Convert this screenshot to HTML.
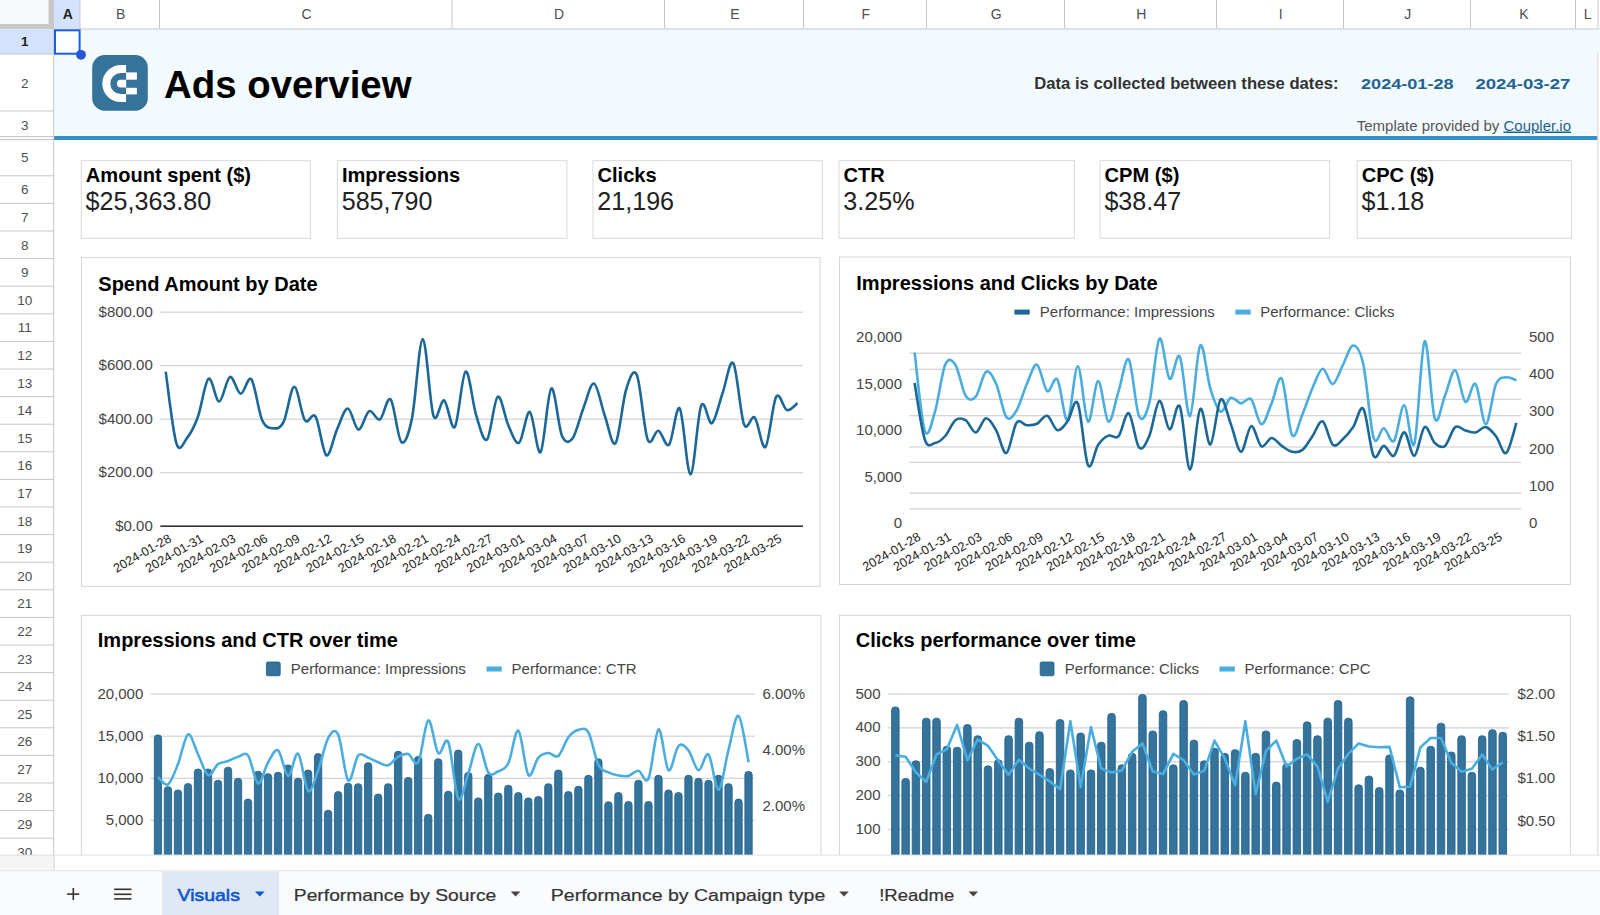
<!DOCTYPE html>
<html><head><meta charset="utf-8"><title>Ads overview</title>
<style>
html,body{margin:0;padding:0;background:#fff;width:1600px;height:915px;overflow:hidden;}
svg{display:block;font-family:"Liberation Sans", sans-serif;}
</style></head><body>
<svg width="1600" height="915" viewBox="0 0 1600 915">
<rect x="0" y="0" width="1600" height="915" fill="#ffffff"/>
<rect x="54" y="29" width="1543.5" height="106" fill="#f2fafe"/>
<rect x="54" y="136" width="1543.5" height="4" fill="#3392c9"/>
<rect x="0" y="0" width="1600" height="29" fill="#ffffff"/>
<rect x="0" y="0" width="48.5" height="24" fill="#f8f9fa"/>
<rect x="48.5" y="0" width="5.5" height="29.3" fill="#c7c7c7"/>
<rect x="0" y="24" width="54" height="5.3" fill="#c7c7c7"/>
<rect x="54" y="0" width="26" height="28.5" fill="#d3e3fd"/>
<rect x="54" y="28.5" width="1546" height="1" fill="#c7c7c7"/>
<rect x="79.50" y="0" width="1" height="28.5" fill="#c7c7c7"/>
<text x="67.80" y="19.40" font-size="14" fill="#1f1f1f" font-weight="bold" text-anchor="middle" >A</text>
<rect x="159.00" y="0" width="1" height="28.5" fill="#c7c7c7"/>
<text x="120.55" y="19.40" font-size="14" fill="#4d4f52" font-weight="normal" text-anchor="middle" >B</text>
<rect x="451.50" y="0" width="1" height="28.5" fill="#c7c7c7"/>
<text x="306.55" y="19.40" font-size="14" fill="#4d4f52" font-weight="normal" text-anchor="middle" >C</text>
<rect x="664.00" y="0" width="1" height="28.5" fill="#c7c7c7"/>
<text x="559.05" y="19.40" font-size="14" fill="#4d4f52" font-weight="normal" text-anchor="middle" >D</text>
<rect x="803.00" y="0" width="1" height="28.5" fill="#c7c7c7"/>
<text x="734.80" y="19.40" font-size="14" fill="#4d4f52" font-weight="normal" text-anchor="middle" >E</text>
<rect x="926.00" y="0" width="1" height="28.5" fill="#c7c7c7"/>
<text x="865.80" y="19.40" font-size="14" fill="#4d4f52" font-weight="normal" text-anchor="middle" >F</text>
<rect x="1064.00" y="0" width="1" height="28.5" fill="#c7c7c7"/>
<text x="996.30" y="19.40" font-size="14" fill="#4d4f52" font-weight="normal" text-anchor="middle" >G</text>
<rect x="1216.00" y="0" width="1" height="28.5" fill="#c7c7c7"/>
<text x="1141.30" y="19.40" font-size="14" fill="#4d4f52" font-weight="normal" text-anchor="middle" >H</text>
<rect x="1343.00" y="0" width="1" height="28.5" fill="#c7c7c7"/>
<text x="1280.80" y="19.40" font-size="14" fill="#4d4f52" font-weight="normal" text-anchor="middle" >I</text>
<rect x="1470.00" y="0" width="1" height="28.5" fill="#c7c7c7"/>
<text x="1407.80" y="19.40" font-size="14" fill="#4d4f52" font-weight="normal" text-anchor="middle" >J</text>
<rect x="1575.00" y="0" width="1" height="28.5" fill="#c7c7c7"/>
<text x="1523.80" y="19.40" font-size="14" fill="#4d4f52" font-weight="normal" text-anchor="middle" >K</text>
<rect x="1597.50" y="0" width="1" height="28.5" fill="#c7c7c7"/>
<text x="1587.55" y="19.40" font-size="14" fill="#4d4f52" font-weight="normal" text-anchor="middle" >L</text>
<rect x="1597.5" y="53" width="1" height="802" fill="#c7c7c7"/>
<rect x="1598.5" y="53" width="1.5" height="802" fill="#ffffff"/>
<rect x="1597.5" y="29.5" width="2.5" height="23.5" fill="#f2fafe"/>
<rect x="0" y="29.3" width="53.5" height="826" fill="#ffffff"/>
<rect x="0" y="29.3" width="53.5" height="25" fill="#d3e3fd"/>
<rect x="53.2" y="29" width="1" height="841" fill="#c7c7c7"/>
<rect x="0" y="53.50" width="53.5" height="1" fill="#c7c7c7"/>
<text x="24.80" y="46.40" font-size="13.5" fill="#1f1f1f" font-weight="bold" text-anchor="middle" >1</text>
<rect x="0" y="110.50" width="53.5" height="1" fill="#c7c7c7"/>
<text x="24.80" y="88.40" font-size="13.5" fill="#4d4f52" font-weight="normal" text-anchor="middle" >2</text>
<rect x="0" y="136.00" width="53.5" height="1" fill="#c7c7c7"/>
<text x="24.80" y="130.05" font-size="13.5" fill="#4d4f52" font-weight="normal" text-anchor="middle" >3</text>
<rect x="0" y="175.30" width="53.5" height="1" fill="#c7c7c7"/>
<text x="24.80" y="162.10" font-size="13.5" fill="#4d4f52" font-weight="normal" text-anchor="middle" >5</text>
<rect x="0" y="202.90" width="53.5" height="1" fill="#c7c7c7"/>
<text x="24.80" y="194.30" font-size="13.5" fill="#4d4f52" font-weight="normal" text-anchor="middle" >6</text>
<rect x="0" y="230.50" width="53.5" height="1" fill="#c7c7c7"/>
<text x="24.80" y="221.90" font-size="13.5" fill="#4d4f52" font-weight="normal" text-anchor="middle" >7</text>
<rect x="0" y="258.10" width="53.5" height="1" fill="#c7c7c7"/>
<text x="24.80" y="249.50" font-size="13.5" fill="#4d4f52" font-weight="normal" text-anchor="middle" >8</text>
<rect x="0" y="285.70" width="53.5" height="1" fill="#c7c7c7"/>
<text x="24.80" y="277.10" font-size="13.5" fill="#4d4f52" font-weight="normal" text-anchor="middle" >9</text>
<rect x="0" y="313.30" width="53.5" height="1" fill="#c7c7c7"/>
<text x="24.80" y="304.70" font-size="13.5" fill="#4d4f52" font-weight="normal" text-anchor="middle" >10</text>
<rect x="0" y="340.90" width="53.5" height="1" fill="#c7c7c7"/>
<text x="24.80" y="332.30" font-size="13.5" fill="#4d4f52" font-weight="normal" text-anchor="middle" >11</text>
<rect x="0" y="368.50" width="53.5" height="1" fill="#c7c7c7"/>
<text x="24.80" y="359.90" font-size="13.5" fill="#4d4f52" font-weight="normal" text-anchor="middle" >12</text>
<rect x="0" y="396.10" width="53.5" height="1" fill="#c7c7c7"/>
<text x="24.80" y="387.50" font-size="13.5" fill="#4d4f52" font-weight="normal" text-anchor="middle" >13</text>
<rect x="0" y="423.70" width="53.5" height="1" fill="#c7c7c7"/>
<text x="24.80" y="415.10" font-size="13.5" fill="#4d4f52" font-weight="normal" text-anchor="middle" >14</text>
<rect x="0" y="451.30" width="53.5" height="1" fill="#c7c7c7"/>
<text x="24.80" y="442.70" font-size="13.5" fill="#4d4f52" font-weight="normal" text-anchor="middle" >15</text>
<rect x="0" y="478.90" width="53.5" height="1" fill="#c7c7c7"/>
<text x="24.80" y="470.30" font-size="13.5" fill="#4d4f52" font-weight="normal" text-anchor="middle" >16</text>
<rect x="0" y="506.50" width="53.5" height="1" fill="#c7c7c7"/>
<text x="24.80" y="497.90" font-size="13.5" fill="#4d4f52" font-weight="normal" text-anchor="middle" >17</text>
<rect x="0" y="534.10" width="53.5" height="1" fill="#c7c7c7"/>
<text x="24.80" y="525.50" font-size="13.5" fill="#4d4f52" font-weight="normal" text-anchor="middle" >18</text>
<rect x="0" y="561.70" width="53.5" height="1" fill="#c7c7c7"/>
<text x="24.80" y="553.10" font-size="13.5" fill="#4d4f52" font-weight="normal" text-anchor="middle" >19</text>
<rect x="0" y="589.30" width="53.5" height="1" fill="#c7c7c7"/>
<text x="24.80" y="580.70" font-size="13.5" fill="#4d4f52" font-weight="normal" text-anchor="middle" >20</text>
<rect x="0" y="616.90" width="53.5" height="1" fill="#c7c7c7"/>
<text x="24.80" y="608.30" font-size="13.5" fill="#4d4f52" font-weight="normal" text-anchor="middle" >21</text>
<rect x="0" y="644.50" width="53.5" height="1" fill="#c7c7c7"/>
<text x="24.80" y="635.90" font-size="13.5" fill="#4d4f52" font-weight="normal" text-anchor="middle" >22</text>
<rect x="0" y="672.10" width="53.5" height="1" fill="#c7c7c7"/>
<text x="24.80" y="663.50" font-size="13.5" fill="#4d4f52" font-weight="normal" text-anchor="middle" >23</text>
<rect x="0" y="699.70" width="53.5" height="1" fill="#c7c7c7"/>
<text x="24.80" y="691.10" font-size="13.5" fill="#4d4f52" font-weight="normal" text-anchor="middle" >24</text>
<rect x="0" y="727.30" width="53.5" height="1" fill="#c7c7c7"/>
<text x="24.80" y="718.70" font-size="13.5" fill="#4d4f52" font-weight="normal" text-anchor="middle" >25</text>
<rect x="0" y="754.90" width="53.5" height="1" fill="#c7c7c7"/>
<text x="24.80" y="746.30" font-size="13.5" fill="#4d4f52" font-weight="normal" text-anchor="middle" >26</text>
<rect x="0" y="782.50" width="53.5" height="1" fill="#c7c7c7"/>
<text x="24.80" y="773.90" font-size="13.5" fill="#4d4f52" font-weight="normal" text-anchor="middle" >27</text>
<rect x="0" y="810.10" width="53.5" height="1" fill="#c7c7c7"/>
<text x="24.80" y="801.50" font-size="13.5" fill="#4d4f52" font-weight="normal" text-anchor="middle" >28</text>
<rect x="0" y="837.70" width="53.5" height="1" fill="#c7c7c7"/>
<text x="24.80" y="829.10" font-size="13.5" fill="#4d4f52" font-weight="normal" text-anchor="middle" >29</text>
<rect x="0" y="865.30" width="53.5" height="1" fill="#c7c7c7"/>
<text x="24.80" y="856.70" font-size="13.5" fill="#4d4f52" font-weight="normal" text-anchor="middle" >30</text>
<rect x="0" y="136" width="53.5" height="1.2" fill="#c7c7c7"/>
<rect x="0" y="139" width="53.5" height="1.2" fill="#c7c7c7"/>
<rect x="55" y="30.3" width="24.6" height="23.4" fill="#fcfeff" stroke="#1a5fe0" stroke-width="2"/>
<circle cx="81" cy="54.8" r="4.9" fill="#2456d6"/>
<g transform="translate(92.20,55.10)">
<rect x="0" y="0" width="55.6" height="55.6" rx="12.5" fill="#35739a"/>
<path d="M33.90,10.00 L28.60,10.00 A18.50,18.50 0 0 0 28.60,47.00 L33.90,47.00 Z" fill="#ffffff"/>
<path d="M33.90,18.00 L28.60,18.00 A10.50,10.50 0 0 0 28.60,39.00 L33.90,39.00 Z" fill="#35739a"/>
<path d="M33.90,24.60 L28.60,24.60 A3.90,3.90 0 0 0 28.60,32.40 L33.90,32.40 Z" fill="#ffffff"/>
<rect x="33.9" y="17.3" width="10.8" height="7.3" fill="#ffffff"/>
<rect x="33.9" y="32.7" width="10.8" height="6.6" fill="#ffffff"/>
</g>
<text x="164.00" y="98.20" font-size="38.4" fill="#000000" font-weight="bold" text-anchor="start" >Ads overview</text>
<text x="1034.20" y="89.00" font-size="16.65" fill="#333333" font-weight="bold" text-anchor="start" >Data is collected between these dates:</text>
<text x="1361.00" y="89.00" font-size="15.2" fill="#1f6391" font-weight="bold" text-anchor="start" textLength="92.6" lengthAdjust="spacingAndGlyphs">2024-01-28</text>
<text x="1475.40" y="89.00" font-size="15.2" fill="#1f6391" font-weight="bold" text-anchor="start" textLength="95" lengthAdjust="spacingAndGlyphs">2024-03-27</text>
<text x="1571.00" y="130.50" font-size="15" fill="#555555" font-weight="normal" text-anchor="end" >Template provided by <tspan fill="#1f6391" text-decoration="underline">Coupler.io</tspan></text>
<rect x="81.30" y="160.7" width="229.10" height="77.6" fill="#ffffff" stroke="#d9d9d9" stroke-width="1"/>
<text x="85.80" y="181.60" font-size="20.1" fill="#000000" font-weight="bold" text-anchor="start" >Amount spent ($)</text>
<text x="85.60" y="209.80" font-size="25.1" fill="#222222" font-weight="normal" text-anchor="start" >$25,363.80</text>
<rect x="337.40" y="160.7" width="229.50" height="77.6" fill="#ffffff" stroke="#d9d9d9" stroke-width="1"/>
<text x="341.90" y="181.60" font-size="20.1" fill="#000000" font-weight="bold" text-anchor="start" >Impressions</text>
<text x="341.70" y="209.80" font-size="25.1" fill="#222222" font-weight="normal" text-anchor="start" >585,790</text>
<rect x="593.00" y="160.7" width="229.40" height="77.6" fill="#ffffff" stroke="#d9d9d9" stroke-width="1"/>
<text x="597.50" y="181.60" font-size="20.1" fill="#000000" font-weight="bold" text-anchor="start" >Clicks</text>
<text x="597.30" y="209.80" font-size="25.1" fill="#222222" font-weight="normal" text-anchor="start" >21,196</text>
<rect x="839.00" y="160.7" width="235.30" height="77.6" fill="#ffffff" stroke="#d9d9d9" stroke-width="1"/>
<text x="843.50" y="181.60" font-size="20.1" fill="#000000" font-weight="bold" text-anchor="start" >CTR</text>
<text x="843.30" y="209.80" font-size="25.1" fill="#222222" font-weight="normal" text-anchor="start" >3.25%</text>
<rect x="1100.10" y="160.7" width="229.50" height="77.6" fill="#ffffff" stroke="#d9d9d9" stroke-width="1"/>
<text x="1104.60" y="181.60" font-size="20.1" fill="#000000" font-weight="bold" text-anchor="start" >CPM ($)</text>
<text x="1104.40" y="209.80" font-size="25.1" fill="#222222" font-weight="normal" text-anchor="start" >$38.47</text>
<rect x="1357.20" y="160.7" width="214.20" height="77.6" fill="#ffffff" stroke="#d9d9d9" stroke-width="1"/>
<text x="1361.70" y="182.40" font-size="20.1" fill="#000000" font-weight="bold" text-anchor="start" >CPC ($)</text>
<text x="1361.50" y="209.80" font-size="25.1" fill="#222222" font-weight="normal" text-anchor="start" >$1.18</text>
<rect x="81.50" y="257.60" width="738.50" height="328.70" fill="#ffffff" stroke="#d5d5d5" stroke-width="1"/>
<text x="98.30" y="290.80" font-size="20" fill="#000000" font-weight="bold" text-anchor="start" >Spend Amount by Date</text>
<rect x="160.30" y="525.40" width="642.70" height="1.6" fill="#333333"/>
<text x="152.80" y="530.70" font-size="15" fill="#444444" font-weight="normal" text-anchor="end" >$0.00</text>
<rect x="160.30" y="472.05" width="642.70" height="1.3" fill="#d4d4d4"/>
<text x="152.80" y="477.20" font-size="15" fill="#444444" font-weight="normal" text-anchor="end" >$200.00</text>
<rect x="160.30" y="418.55" width="642.70" height="1.3" fill="#d4d4d4"/>
<text x="152.80" y="423.70" font-size="15" fill="#444444" font-weight="normal" text-anchor="end" >$400.00</text>
<rect x="160.30" y="365.05" width="642.70" height="1.3" fill="#d4d4d4"/>
<text x="152.80" y="370.20" font-size="15" fill="#444444" font-weight="normal" text-anchor="end" >$600.00</text>
<rect x="160.30" y="311.55" width="642.70" height="1.3" fill="#d4d4d4"/>
<text x="152.80" y="316.70" font-size="15" fill="#444444" font-weight="normal" text-anchor="end" >$800.00</text>
<path d="M165.70,371.59 C167.48,383.53 172.84,432.22 176.41,443.28 C179.98,454.33 183.55,442.29 187.12,437.93 C190.69,433.56 194.26,426.91 197.83,417.06 C201.40,407.21 204.97,381.39 208.54,378.81 C212.11,376.22 215.68,401.86 219.25,401.55 C222.82,401.23 226.39,378.23 229.96,376.94 C233.53,375.64 237.10,393.39 240.67,393.79 C244.24,394.19 247.81,374.97 251.38,379.34 C254.95,383.71 258.52,411.84 262.09,420.00 C265.66,428.16 269.23,427.94 272.80,428.30 C276.37,428.65 279.94,429.05 283.51,422.14 C287.08,415.23 290.65,387.14 294.22,386.83 C297.79,386.52 301.36,415.28 304.93,420.27 C308.50,425.26 312.07,410.95 315.64,416.79 C319.21,422.63 322.78,453.22 326.35,455.31 C329.92,457.41 333.49,437.17 337.06,429.37 C340.63,421.56 344.20,408.46 347.77,408.50 C351.34,408.54 354.91,429.19 358.48,429.63 C362.05,430.08 365.62,412.87 369.19,411.18 C372.76,409.48 376.33,421.43 379.90,419.47 C383.47,417.51 387.04,395.66 390.61,399.41 C394.18,403.15 397.75,438.82 401.32,441.94 C404.89,445.06 408.46,435.29 412.03,418.13 C415.60,400.97 419.17,339.35 422.74,338.95 C426.31,338.55 429.88,405.47 433.45,415.72 C437.02,425.98 440.59,398.60 444.16,400.48 C447.73,402.35 451.30,431.77 454.87,426.96 C458.44,422.14 462.01,373.46 465.58,371.59 C469.15,369.71 472.72,404.40 476.29,415.72 C479.86,427.05 483.43,442.70 487.00,439.53 C490.57,436.36 494.14,399.05 497.71,396.73 C501.28,394.41 504.85,417.95 508.42,425.62 C511.99,433.29 515.56,445.01 519.13,442.74 C522.70,440.47 526.27,410.42 529.84,411.98 C533.41,413.54 536.98,456.03 540.55,452.10 C544.12,448.18 547.69,391.16 551.26,388.44 C554.83,385.72 558.40,427.49 561.97,435.79 C565.54,444.08 569.11,442.78 572.68,438.19 C576.25,433.60 579.82,417.33 583.39,408.23 C586.96,399.14 590.53,382.37 594.10,383.62 C597.67,384.87 601.24,405.78 604.81,415.72 C608.38,425.66 611.95,447.69 615.52,443.28 C619.09,438.86 622.66,400.56 626.23,389.24 C629.80,377.92 633.37,366.95 636.94,375.33 C640.51,383.71 644.08,430.30 647.65,439.53 C651.22,448.76 654.79,429.86 658.36,430.70 C661.93,431.55 665.50,448.31 669.07,444.61 C672.64,440.91 676.21,403.51 679.78,408.50 C683.35,413.49 686.92,475.06 690.49,474.57 C694.06,474.08 697.63,414.12 701.20,405.56 C704.77,397.00 708.34,425.31 711.91,423.21 C715.48,421.12 719.05,402.97 722.62,392.99 C726.19,383.00 729.76,358.08 733.33,363.29 C736.90,368.51 740.47,415.23 744.04,424.28 C747.61,433.33 751.18,413.81 754.75,417.60 C758.32,421.38 761.89,450.50 765.46,447.02 C769.03,443.54 772.60,402.88 776.17,396.73 C779.74,390.58 783.31,409.04 786.88,410.11 C790.45,411.18 795.81,404.31 797.59,403.15" fill="none" stroke="#1b6898" stroke-width="2.6" stroke-linejoin="round"/>
<text transform="translate(172.20,540.90) rotate(-30)" font-size="12.6" fill="#222222" text-anchor="end">2024-01-28</text>
<text transform="translate(204.33,540.90) rotate(-30)" font-size="12.6" fill="#222222" text-anchor="end">2024-01-31</text>
<text transform="translate(236.46,540.90) rotate(-30)" font-size="12.6" fill="#222222" text-anchor="end">2024-02-03</text>
<text transform="translate(268.59,540.90) rotate(-30)" font-size="12.6" fill="#222222" text-anchor="end">2024-02-06</text>
<text transform="translate(300.72,540.90) rotate(-30)" font-size="12.6" fill="#222222" text-anchor="end">2024-02-09</text>
<text transform="translate(332.85,540.90) rotate(-30)" font-size="12.6" fill="#222222" text-anchor="end">2024-02-12</text>
<text transform="translate(364.98,540.90) rotate(-30)" font-size="12.6" fill="#222222" text-anchor="end">2024-02-15</text>
<text transform="translate(397.11,540.90) rotate(-30)" font-size="12.6" fill="#222222" text-anchor="end">2024-02-18</text>
<text transform="translate(429.24,540.90) rotate(-30)" font-size="12.6" fill="#222222" text-anchor="end">2024-02-21</text>
<text transform="translate(461.37,540.90) rotate(-30)" font-size="12.6" fill="#222222" text-anchor="end">2024-02-24</text>
<text transform="translate(493.50,540.90) rotate(-30)" font-size="12.6" fill="#222222" text-anchor="end">2024-02-27</text>
<text transform="translate(525.63,540.90) rotate(-30)" font-size="12.6" fill="#222222" text-anchor="end">2024-03-01</text>
<text transform="translate(557.76,540.90) rotate(-30)" font-size="12.6" fill="#222222" text-anchor="end">2024-03-04</text>
<text transform="translate(589.89,540.90) rotate(-30)" font-size="12.6" fill="#222222" text-anchor="end">2024-03-07</text>
<text transform="translate(622.02,540.90) rotate(-30)" font-size="12.6" fill="#222222" text-anchor="end">2024-03-10</text>
<text transform="translate(654.15,540.90) rotate(-30)" font-size="12.6" fill="#222222" text-anchor="end">2024-03-13</text>
<text transform="translate(686.28,540.90) rotate(-30)" font-size="12.6" fill="#222222" text-anchor="end">2024-03-16</text>
<text transform="translate(718.41,540.90) rotate(-30)" font-size="12.6" fill="#222222" text-anchor="end">2024-03-19</text>
<text transform="translate(750.54,540.90) rotate(-30)" font-size="12.6" fill="#222222" text-anchor="end">2024-03-22</text>
<text transform="translate(782.67,540.90) rotate(-30)" font-size="12.6" fill="#222222" text-anchor="end">2024-03-25</text>
<rect x="839.50" y="257.00" width="731.00" height="327.50" fill="#ffffff" stroke="#d5d5d5" stroke-width="1"/>
<text x="856.30" y="289.80" font-size="20" fill="#000000" font-weight="bold" text-anchor="start" >Impressions and Clicks by Date</text>
<rect x="1014.4" y="309.6" width="15.3" height="5" fill="#1b6898"/>
<text x="1039.80" y="317.30" font-size="15" fill="#444444" font-weight="normal" text-anchor="start" >Performance: Impressions</text>
<rect x="1235.4" y="309.6" width="15.3" height="5" fill="#4aaddf"/>
<text x="1260.20" y="317.30" font-size="15" fill="#444444" font-weight="normal" text-anchor="start" >Performance: Clicks</text>
<rect x="909.3" y="352.55" width="611.8" height="1.3" fill="#d4d4d4"/>
<rect x="909.3" y="368.65" width="611.8" height="1.3" fill="#d4d4d4"/>
<rect x="909.3" y="398.75" width="611.8" height="1.3" fill="#d4d4d4"/>
<rect x="909.3" y="415.05" width="611.8" height="1.3" fill="#d4d4d4"/>
<rect x="909.3" y="446.35" width="611.8" height="1.3" fill="#d4d4d4"/>
<rect x="909.3" y="461.75" width="611.8" height="1.3" fill="#d4d4d4"/>
<rect x="909.3" y="492.55" width="611.8" height="1.3" fill="#d4d4d4"/>
<rect x="909.3" y="508.15" width="611.8" height="1.3" fill="#d4d4d4"/>
<text x="902.00" y="528.30" font-size="15" fill="#444444" font-weight="normal" text-anchor="end" >0</text>
<text x="902.00" y="481.70" font-size="15" fill="#444444" font-weight="normal" text-anchor="end" >5,000</text>
<text x="902.00" y="435.10" font-size="15" fill="#444444" font-weight="normal" text-anchor="end" >10,000</text>
<text x="902.00" y="388.50" font-size="15" fill="#444444" font-weight="normal" text-anchor="end" >15,000</text>
<text x="902.00" y="341.90" font-size="15" fill="#444444" font-weight="normal" text-anchor="end" >20,000</text>
<text x="1529.00" y="528.30" font-size="15" fill="#444444" font-weight="normal" text-anchor="start" >0</text>
<text x="1529.00" y="491.00" font-size="15" fill="#444444" font-weight="normal" text-anchor="start" >100</text>
<text x="1529.00" y="453.70" font-size="15" fill="#444444" font-weight="normal" text-anchor="start" >200</text>
<text x="1529.00" y="416.40" font-size="15" fill="#444444" font-weight="normal" text-anchor="start" >300</text>
<text x="1529.00" y="379.10" font-size="15" fill="#444444" font-weight="normal" text-anchor="start" >400</text>
<text x="1529.00" y="341.80" font-size="15" fill="#444444" font-weight="normal" text-anchor="start" >500</text>
<path d="M914.60,352.50 C916.30,365.56 921.40,421.04 924.80,430.88 C928.20,440.73 931.60,422.59 935.00,411.56 C938.40,400.54 941.80,372.56 945.20,364.75 C948.60,356.95 952.00,359.62 955.40,364.75 C958.80,369.89 962.20,390.26 965.60,395.59 C969.00,400.91 972.40,400.67 975.80,396.70 C979.20,392.74 982.60,373.92 986.00,371.81 C989.40,369.71 992.80,376.52 996.20,384.07 C999.60,391.63 1003.00,412.74 1006.40,417.14 C1009.80,421.53 1013.20,415.96 1016.60,410.45 C1020.00,404.94 1023.40,391.69 1026.80,384.07 C1030.20,376.46 1033.60,363.58 1037.00,364.75 C1040.40,365.93 1043.80,388.65 1047.20,391.13 C1050.60,393.61 1054.00,374.79 1057.40,379.62 C1060.80,384.44 1064.20,422.34 1067.60,420.11 C1071.00,417.88 1074.40,365.99 1077.80,366.24 C1081.20,366.49 1084.60,419.12 1088.00,421.59 C1091.40,424.07 1094.80,381.10 1098.20,381.10 C1101.60,381.10 1105.00,419.92 1108.40,421.59 C1111.80,423.27 1115.20,401.47 1118.60,391.13 C1122.00,380.79 1125.40,355.41 1128.80,359.55 C1132.20,363.70 1135.60,408.72 1139.00,416.02 C1142.40,423.33 1145.80,416.27 1149.20,403.39 C1152.60,390.51 1156.00,342.84 1159.40,338.75 C1162.80,334.66 1166.20,375.90 1169.60,378.87 C1173.00,381.84 1176.40,350.39 1179.80,356.58 C1183.20,362.77 1186.60,417.88 1190.00,416.02 C1193.40,414.16 1196.80,349.96 1200.20,345.44 C1203.60,340.92 1207.00,377.88 1210.40,388.90 C1213.80,399.92 1217.20,410.08 1220.60,411.56 C1224.00,413.05 1227.40,399.18 1230.80,397.82 C1234.20,396.46 1237.60,403.14 1241.00,403.39 C1244.40,403.64 1247.80,395.84 1251.20,399.30 C1254.60,402.77 1258.00,423.51 1261.40,424.19 C1264.80,424.88 1268.20,410.94 1271.60,403.39 C1275.00,395.84 1278.40,373.61 1281.80,378.87 C1285.20,384.13 1288.60,428.96 1292.00,434.97 C1295.40,440.97 1298.80,422.71 1302.20,414.91 C1305.60,407.11 1309.00,395.84 1312.40,388.16 C1315.80,380.48 1319.20,369.52 1322.60,368.84 C1326.00,368.16 1329.40,384.75 1332.80,384.07 C1336.20,383.39 1339.60,371.19 1343.00,364.75 C1346.40,358.32 1349.80,345.44 1353.20,345.44 C1356.60,345.44 1360.00,349.34 1363.40,364.75 C1366.80,380.17 1370.20,427.35 1373.60,437.94 C1377.00,448.53 1380.40,427.79 1383.80,428.28 C1387.20,428.78 1390.60,444.75 1394.00,440.91 C1397.40,437.07 1400.80,404.82 1404.20,405.25 C1407.60,405.68 1411.00,454.16 1414.40,443.51 C1417.80,432.86 1421.20,345.50 1424.60,341.35 C1428.00,337.20 1431.40,409.58 1434.80,418.62 C1438.20,427.66 1441.60,403.64 1445.00,395.59 C1448.40,387.54 1451.80,369.27 1455.20,370.33 C1458.60,371.38 1462.00,399.61 1465.40,401.90 C1468.80,404.20 1472.20,380.36 1475.60,384.07 C1479.00,387.79 1482.40,424.19 1485.80,424.19 C1489.20,424.19 1492.60,391.87 1496.00,384.07 C1499.40,376.27 1502.80,378.01 1506.20,377.39 C1509.60,376.77 1514.70,379.86 1516.40,380.36" fill="none" stroke="#4aaddf" stroke-width="2.6" stroke-linejoin="round"/>
<path d="M914.60,383.02 C916.30,392.43 921.40,429.48 924.80,439.49 C928.20,449.50 931.60,443.66 935.00,443.08 C938.40,442.49 941.80,439.82 945.20,436.00 C948.60,432.19 952.00,422.84 955.40,420.21 C958.80,417.58 962.20,418.17 965.60,420.21 C969.00,422.25 972.40,432.76 975.80,432.42 C979.20,432.09 982.60,418.53 986.00,418.19 C989.40,417.85 992.80,424.60 996.20,430.40 C999.60,436.20 1003.00,454.28 1006.40,452.99 C1009.80,451.71 1013.20,427.31 1016.60,422.69 C1020.00,418.07 1023.40,425.08 1026.80,425.26 C1030.20,425.44 1033.60,425.37 1037.00,423.79 C1040.40,422.21 1043.80,414.73 1047.20,415.80 C1050.60,416.87 1054.00,429.30 1057.40,430.22 C1060.80,431.14 1064.20,425.78 1067.60,421.31 C1071.00,416.84 1074.40,396.09 1077.80,403.40 C1081.20,410.72 1084.60,458.30 1088.00,465.21 C1091.40,472.11 1094.80,449.75 1098.20,444.82 C1101.60,439.89 1105.00,437.08 1108.40,435.64 C1111.80,434.20 1115.20,439.91 1118.60,436.19 C1122.00,432.47 1125.40,411.44 1128.80,413.32 C1132.20,415.20 1135.60,443.67 1139.00,447.48 C1142.40,451.29 1145.80,443.95 1149.20,436.19 C1152.60,428.43 1156.00,402.06 1159.40,400.93 C1162.80,399.79 1166.20,428.47 1169.60,429.39 C1173.00,430.31 1176.40,399.73 1179.80,406.44 C1183.20,413.14 1186.60,469.19 1190.00,469.61 C1193.40,470.04 1196.80,413.20 1200.20,409.01 C1203.60,404.81 1207.00,446.03 1210.40,444.45 C1213.80,442.88 1217.20,402.96 1220.60,399.55 C1224.00,396.13 1227.40,415.28 1230.80,423.97 C1234.20,432.67 1237.60,451.34 1241.00,451.71 C1244.40,452.07 1247.80,427.07 1251.20,426.18 C1254.60,425.29 1258.00,444.42 1261.40,446.38 C1264.80,448.34 1268.20,438.01 1271.60,437.93 C1275.00,437.86 1278.40,443.63 1281.80,445.92 C1285.20,448.22 1288.60,451.00 1292.00,451.71 C1295.40,452.41 1298.80,452.73 1302.20,450.15 C1305.60,447.56 1309.00,440.99 1312.40,436.19 C1315.80,431.38 1319.20,419.87 1322.60,421.31 C1326.00,422.75 1329.40,441.87 1332.80,444.82 C1336.20,447.77 1339.60,441.99 1343.00,439.03 C1346.40,436.08 1349.80,432.10 1353.20,427.10 C1356.60,422.09 1360.00,404.20 1363.40,409.01 C1366.80,413.81 1370.20,449.78 1373.60,455.93 C1377.00,462.08 1380.40,445.97 1383.80,445.92 C1387.20,445.88 1390.60,457.91 1394.00,455.66 C1397.40,453.41 1400.80,432.42 1404.20,432.42 C1407.60,432.42 1411.00,456.54 1414.40,455.66 C1417.80,454.77 1421.20,429.19 1424.60,427.10 C1428.00,425.00 1431.40,439.94 1434.80,443.08 C1438.20,446.21 1441.60,448.59 1445.00,445.92 C1448.40,443.26 1451.80,429.68 1455.20,427.10 C1458.60,424.51 1462.00,429.51 1465.40,430.40 C1468.80,431.29 1472.20,432.97 1475.60,432.42 C1479.00,431.87 1482.40,426.47 1485.80,427.10 C1489.20,427.72 1492.60,431.87 1496.00,436.19 C1499.40,440.50 1502.80,455.21 1506.20,452.99 C1509.60,450.77 1514.70,427.89 1516.40,422.87" fill="none" stroke="#1b6898" stroke-width="2.6" stroke-linejoin="round"/>
<text transform="translate(921.60,539.30) rotate(-30)" font-size="12.6" fill="#222222" text-anchor="end">2024-01-28</text>
<text transform="translate(952.20,539.30) rotate(-30)" font-size="12.6" fill="#222222" text-anchor="end">2024-01-31</text>
<text transform="translate(982.80,539.30) rotate(-30)" font-size="12.6" fill="#222222" text-anchor="end">2024-02-03</text>
<text transform="translate(1013.40,539.30) rotate(-30)" font-size="12.6" fill="#222222" text-anchor="end">2024-02-06</text>
<text transform="translate(1044.00,539.30) rotate(-30)" font-size="12.6" fill="#222222" text-anchor="end">2024-02-09</text>
<text transform="translate(1074.60,539.30) rotate(-30)" font-size="12.6" fill="#222222" text-anchor="end">2024-02-12</text>
<text transform="translate(1105.20,539.30) rotate(-30)" font-size="12.6" fill="#222222" text-anchor="end">2024-02-15</text>
<text transform="translate(1135.80,539.30) rotate(-30)" font-size="12.6" fill="#222222" text-anchor="end">2024-02-18</text>
<text transform="translate(1166.40,539.30) rotate(-30)" font-size="12.6" fill="#222222" text-anchor="end">2024-02-21</text>
<text transform="translate(1197.00,539.30) rotate(-30)" font-size="12.6" fill="#222222" text-anchor="end">2024-02-24</text>
<text transform="translate(1227.60,539.30) rotate(-30)" font-size="12.6" fill="#222222" text-anchor="end">2024-02-27</text>
<text transform="translate(1258.20,539.30) rotate(-30)" font-size="12.6" fill="#222222" text-anchor="end">2024-03-01</text>
<text transform="translate(1288.80,539.30) rotate(-30)" font-size="12.6" fill="#222222" text-anchor="end">2024-03-04</text>
<text transform="translate(1319.40,539.30) rotate(-30)" font-size="12.6" fill="#222222" text-anchor="end">2024-03-07</text>
<text transform="translate(1350.00,539.30) rotate(-30)" font-size="12.6" fill="#222222" text-anchor="end">2024-03-10</text>
<text transform="translate(1380.60,539.30) rotate(-30)" font-size="12.6" fill="#222222" text-anchor="end">2024-03-13</text>
<text transform="translate(1411.20,539.30) rotate(-30)" font-size="12.6" fill="#222222" text-anchor="end">2024-03-16</text>
<text transform="translate(1441.80,539.30) rotate(-30)" font-size="12.6" fill="#222222" text-anchor="end">2024-03-19</text>
<text transform="translate(1472.40,539.30) rotate(-30)" font-size="12.6" fill="#222222" text-anchor="end">2024-03-22</text>
<text transform="translate(1503.00,539.30) rotate(-30)" font-size="12.6" fill="#222222" text-anchor="end">2024-03-25</text>
<clipPath id="cb"><rect x="0" y="0" width="1600" height="855"/></clipPath>
<g clip-path="url(#cb)">
<rect x="81.40" y="615.30" width="739.60" height="284.70" fill="#ffffff" stroke="#d5d5d5" stroke-width="1"/>
<text x="97.80" y="646.90" font-size="20" fill="#000000" font-weight="bold" text-anchor="start" >Impressions and CTR over time</text>
<rect x="266.4" y="662" width="13.8" height="13.8" rx="1.5" fill="#35739a" stroke="#1c6394" stroke-width="0.85"/>
<text x="290.80" y="674.40" font-size="15" fill="#444444" font-weight="normal" text-anchor="start" >Performance: Impressions</text>
<rect x="486.5" y="666.5" width="15.3" height="5" fill="#4aaddf"/>
<text x="511.60" y="674.40" font-size="15" fill="#444444" font-weight="normal" text-anchor="start" >Performance: CTR</text>
<rect x="150.5" y="819.75" width="604.3" height="1.3" fill="#d4d4d4"/>
<text x="143.30" y="824.90" font-size="15" fill="#444444" font-weight="normal" text-anchor="end" >5,000</text>
<rect x="150.5" y="777.65" width="604.3" height="1.3" fill="#d4d4d4"/>
<text x="143.30" y="782.80" font-size="15" fill="#444444" font-weight="normal" text-anchor="end" >10,000</text>
<rect x="150.5" y="735.55" width="604.3" height="1.3" fill="#d4d4d4"/>
<text x="143.30" y="740.70" font-size="15" fill="#444444" font-weight="normal" text-anchor="end" >15,000</text>
<rect x="150.5" y="693.45" width="604.3" height="1.3" fill="#d4d4d4"/>
<text x="143.30" y="698.60" font-size="15" fill="#444444" font-weight="normal" text-anchor="end" >20,000</text>
<text x="762.50" y="810.87" font-size="15" fill="#444444" font-weight="normal" text-anchor="start" >2.00%</text>
<text x="762.50" y="754.74" font-size="15" fill="#444444" font-weight="normal" text-anchor="start" >4.00%</text>
<text x="762.50" y="698.61" font-size="15" fill="#444444" font-weight="normal" text-anchor="start" >6.00%</text>
<rect x="154.30" y="734.92" width="7.3" height="137.98" rx="3.3" fill="#35739a" stroke="#1c6394" stroke-width="0.85"/>
<rect x="164.31" y="786.70" width="7.3" height="86.20" rx="3.3" fill="#35739a" stroke="#1c6394" stroke-width="0.85"/>
<rect x="174.32" y="789.98" width="7.3" height="82.92" rx="3.3" fill="#35739a" stroke="#1c6394" stroke-width="0.85"/>
<rect x="184.33" y="783.50" width="7.3" height="89.40" rx="3.3" fill="#35739a" stroke="#1c6394" stroke-width="0.85"/>
<rect x="194.34" y="769.02" width="7.3" height="103.88" rx="3.3" fill="#35739a" stroke="#1c6394" stroke-width="0.85"/>
<rect x="204.35" y="769.02" width="7.3" height="103.88" rx="3.3" fill="#35739a" stroke="#1c6394" stroke-width="0.85"/>
<rect x="214.36" y="780.22" width="7.3" height="92.68" rx="3.3" fill="#35739a" stroke="#1c6394" stroke-width="0.85"/>
<rect x="224.37" y="767.16" width="7.3" height="105.74" rx="3.3" fill="#35739a" stroke="#1c6394" stroke-width="0.85"/>
<rect x="234.38" y="778.36" width="7.3" height="94.54" rx="3.3" fill="#35739a" stroke="#1c6394" stroke-width="0.85"/>
<rect x="244.39" y="799.08" width="7.3" height="73.82" rx="3.3" fill="#35739a" stroke="#1c6394" stroke-width="0.85"/>
<rect x="254.40" y="771.29" width="7.3" height="101.61" rx="3.3" fill="#35739a" stroke="#1c6394" stroke-width="0.85"/>
<rect x="264.41" y="773.65" width="7.3" height="99.25" rx="3.3" fill="#35739a" stroke="#1c6394" stroke-width="0.85"/>
<rect x="274.42" y="772.30" width="7.3" height="100.60" rx="3.3" fill="#35739a" stroke="#1c6394" stroke-width="0.85"/>
<rect x="284.43" y="764.98" width="7.3" height="107.92" rx="3.3" fill="#35739a" stroke="#1c6394" stroke-width="0.85"/>
<rect x="294.44" y="778.19" width="7.3" height="94.71" rx="3.3" fill="#35739a" stroke="#1c6394" stroke-width="0.85"/>
<rect x="304.45" y="770.03" width="7.3" height="102.87" rx="3.3" fill="#35739a" stroke="#1c6394" stroke-width="0.85"/>
<rect x="314.46" y="753.61" width="7.3" height="119.29" rx="3.3" fill="#35739a" stroke="#1c6394" stroke-width="0.85"/>
<rect x="324.47" y="810.27" width="7.3" height="62.62" rx="3.3" fill="#35739a" stroke="#1c6394" stroke-width="0.85"/>
<rect x="334.48" y="791.58" width="7.3" height="81.32" rx="3.3" fill="#35739a" stroke="#1c6394" stroke-width="0.85"/>
<rect x="344.49" y="783.16" width="7.3" height="89.74" rx="3.3" fill="#35739a" stroke="#1c6394" stroke-width="0.85"/>
<rect x="354.50" y="783.67" width="7.3" height="89.23" rx="3.3" fill="#35739a" stroke="#1c6394" stroke-width="0.85"/>
<rect x="364.51" y="762.70" width="7.3" height="110.20" rx="3.3" fill="#35739a" stroke="#1c6394" stroke-width="0.85"/>
<rect x="374.52" y="794.02" width="7.3" height="78.88" rx="3.3" fill="#35739a" stroke="#1c6394" stroke-width="0.85"/>
<rect x="384.53" y="783.67" width="7.3" height="89.23" rx="3.3" fill="#35739a" stroke="#1c6394" stroke-width="0.85"/>
<rect x="394.54" y="751.33" width="7.3" height="121.56" rx="3.3" fill="#35739a" stroke="#1c6394" stroke-width="0.85"/>
<rect x="404.55" y="777.44" width="7.3" height="95.46" rx="3.3" fill="#35739a" stroke="#1c6394" stroke-width="0.85"/>
<rect x="414.56" y="756.39" width="7.3" height="116.51" rx="3.3" fill="#35739a" stroke="#1c6394" stroke-width="0.85"/>
<rect x="424.57" y="814.32" width="7.3" height="58.58" rx="3.3" fill="#35739a" stroke="#1c6394" stroke-width="0.85"/>
<rect x="434.58" y="758.74" width="7.3" height="114.16" rx="3.3" fill="#35739a" stroke="#1c6394" stroke-width="0.85"/>
<rect x="444.59" y="791.25" width="7.3" height="81.65" rx="3.3" fill="#35739a" stroke="#1c6394" stroke-width="0.85"/>
<rect x="454.60" y="750.07" width="7.3" height="122.83" rx="3.3" fill="#35739a" stroke="#1c6394" stroke-width="0.85"/>
<rect x="464.61" y="772.47" width="7.3" height="100.43" rx="3.3" fill="#35739a" stroke="#1c6394" stroke-width="0.85"/>
<rect x="474.62" y="797.90" width="7.3" height="75.00" rx="3.3" fill="#35739a" stroke="#1c6394" stroke-width="0.85"/>
<rect x="484.63" y="774.49" width="7.3" height="98.41" rx="3.3" fill="#35739a" stroke="#1c6394" stroke-width="0.85"/>
<rect x="494.64" y="793.01" width="7.3" height="79.89" rx="3.3" fill="#35739a" stroke="#1c6394" stroke-width="0.85"/>
<rect x="504.65" y="785.27" width="7.3" height="87.63" rx="3.3" fill="#35739a" stroke="#1c6394" stroke-width="0.85"/>
<rect x="514.66" y="792.59" width="7.3" height="80.31" rx="3.3" fill="#35739a" stroke="#1c6394" stroke-width="0.85"/>
<rect x="524.67" y="797.90" width="7.3" height="75.00" rx="3.3" fill="#35739a" stroke="#1c6394" stroke-width="0.85"/>
<rect x="534.68" y="796.47" width="7.3" height="76.43" rx="3.3" fill="#35739a" stroke="#1c6394" stroke-width="0.85"/>
<rect x="544.69" y="783.67" width="7.3" height="89.23" rx="3.3" fill="#35739a" stroke="#1c6394" stroke-width="0.85"/>
<rect x="554.70" y="770.03" width="7.3" height="102.87" rx="3.3" fill="#35739a" stroke="#1c6394" stroke-width="0.85"/>
<rect x="564.71" y="791.58" width="7.3" height="81.32" rx="3.3" fill="#35739a" stroke="#1c6394" stroke-width="0.85"/>
<rect x="574.72" y="786.28" width="7.3" height="86.62" rx="3.3" fill="#35739a" stroke="#1c6394" stroke-width="0.85"/>
<rect x="584.73" y="775.33" width="7.3" height="97.57" rx="3.3" fill="#35739a" stroke="#1c6394" stroke-width="0.85"/>
<rect x="594.74" y="758.74" width="7.3" height="114.16" rx="3.3" fill="#35739a" stroke="#1c6394" stroke-width="0.85"/>
<rect x="604.75" y="801.77" width="7.3" height="71.13" rx="3.3" fill="#35739a" stroke="#1c6394" stroke-width="0.85"/>
<rect x="614.76" y="792.59" width="7.3" height="80.31" rx="3.3" fill="#35739a" stroke="#1c6394" stroke-width="0.85"/>
<rect x="624.77" y="801.52" width="7.3" height="71.38" rx="3.3" fill="#35739a" stroke="#1c6394" stroke-width="0.85"/>
<rect x="634.78" y="780.22" width="7.3" height="92.68" rx="3.3" fill="#35739a" stroke="#1c6394" stroke-width="0.85"/>
<rect x="644.79" y="801.52" width="7.3" height="71.38" rx="3.3" fill="#35739a" stroke="#1c6394" stroke-width="0.85"/>
<rect x="654.80" y="775.33" width="7.3" height="97.57" rx="3.3" fill="#35739a" stroke="#1c6394" stroke-width="0.85"/>
<rect x="664.81" y="789.98" width="7.3" height="82.92" rx="3.3" fill="#35739a" stroke="#1c6394" stroke-width="0.85"/>
<rect x="674.82" y="792.59" width="7.3" height="80.31" rx="3.3" fill="#35739a" stroke="#1c6394" stroke-width="0.85"/>
<rect x="684.83" y="775.33" width="7.3" height="97.57" rx="3.3" fill="#35739a" stroke="#1c6394" stroke-width="0.85"/>
<rect x="694.84" y="778.36" width="7.3" height="94.54" rx="3.3" fill="#35739a" stroke="#1c6394" stroke-width="0.85"/>
<rect x="704.85" y="780.22" width="7.3" height="92.68" rx="3.3" fill="#35739a" stroke="#1c6394" stroke-width="0.85"/>
<rect x="714.86" y="775.33" width="7.3" height="97.57" rx="3.3" fill="#35739a" stroke="#1c6394" stroke-width="0.85"/>
<rect x="724.87" y="783.67" width="7.3" height="89.23" rx="3.3" fill="#35739a" stroke="#1c6394" stroke-width="0.85"/>
<rect x="734.88" y="799.08" width="7.3" height="73.82" rx="3.3" fill="#35739a" stroke="#1c6394" stroke-width="0.85"/>
<rect x="744.89" y="771.46" width="7.3" height="101.44" rx="3.3" fill="#35739a" stroke="#1c6394" stroke-width="0.85"/>
<path d="M158.00,777.01 C159.67,778.23 164.67,786.52 168.01,784.35 C171.35,782.18 174.68,772.28 178.02,763.97 C181.36,755.67 184.69,736.14 188.03,734.52 C191.37,732.90 194.70,747.49 198.04,754.26 C201.38,761.03 204.71,773.50 208.05,775.15 C211.39,776.81 214.72,766.53 218.06,764.18 C221.40,761.83 224.73,762.27 228.07,761.05 C231.41,759.82 234.74,757.76 238.08,756.83 C241.42,755.90 244.75,751.08 248.09,755.49 C251.43,759.90 254.76,782.15 258.10,783.30 C261.44,784.46 264.77,767.91 268.11,762.41 C271.45,756.92 274.78,748.10 278.12,750.34 C281.46,752.58 284.79,775.30 288.13,775.86 C291.47,776.42 294.80,751.17 298.14,753.69 C301.48,756.22 304.81,788.22 308.15,791.00 C311.49,793.78 314.82,779.20 318.16,770.39 C321.50,761.57 324.83,744.07 328.17,738.11 C331.51,732.14 334.84,727.54 338.18,734.59 C341.52,741.64 344.85,776.93 348.19,780.40 C351.53,783.88 354.86,759.19 358.20,755.42 C361.54,751.65 364.87,756.63 368.21,757.78 C371.55,758.93 374.88,761.06 378.22,762.31 C381.56,763.56 384.89,766.22 388.23,765.27 C391.57,764.31 394.90,758.45 398.24,756.59 C401.58,754.73 404.91,753.17 408.25,754.10 C411.59,755.04 414.92,767.82 418.26,762.21 C421.60,756.61 424.93,721.98 428.27,720.46 C431.61,718.95 434.94,749.53 438.28,753.14 C441.62,756.75 444.95,734.51 448.29,742.12 C451.63,749.73 454.96,793.62 458.30,798.83 C461.64,804.04 464.97,782.53 468.31,773.39 C471.65,764.25 474.98,744.14 478.32,743.98 C481.66,743.82 484.99,767.88 488.33,772.42 C491.67,776.96 495.00,772.73 498.34,771.20 C501.68,769.67 505.01,770.01 508.35,763.26 C511.69,756.52 515.02,728.80 518.36,730.74 C521.70,732.67 525.03,770.41 528.37,774.88 C531.71,779.35 535.04,761.20 538.38,757.56 C541.72,753.92 545.05,753.32 548.39,753.04 C551.73,752.76 555.06,758.51 558.40,755.88 C561.74,753.25 565.07,741.58 568.41,737.24 C571.75,732.91 575.08,730.68 578.42,729.88 C581.76,729.07 585.09,726.58 588.43,732.42 C591.77,738.26 595.10,758.27 598.44,764.94 C601.78,771.60 605.11,770.67 608.45,772.42 C611.79,774.17 615.12,774.87 618.46,775.44 C621.80,776.02 625.13,776.66 628.47,775.87 C631.81,775.09 635.14,770.31 638.48,770.75 C641.82,771.20 645.15,785.45 648.49,778.57 C651.83,771.69 655.16,730.86 658.50,729.45 C661.84,728.05 665.17,767.40 668.51,770.13 C671.85,772.87 675.18,749.14 678.52,745.86 C681.86,742.59 685.19,746.44 688.53,750.50 C691.87,754.57 695.20,769.59 698.54,770.25 C701.88,770.91 705.21,751.23 708.55,754.46 C711.89,757.69 715.22,790.42 718.56,789.63 C721.90,788.85 725.23,762.05 728.57,749.76 C731.91,737.46 735.24,713.79 738.58,715.87 C741.92,717.95 746.92,754.50 748.59,762.22" fill="none" stroke="#4aaddf" stroke-width="2.6" stroke-linejoin="round"/>
<rect x="839.40" y="615.30" width="731.20" height="284.70" fill="#ffffff" stroke="#d5d5d5" stroke-width="1"/>
<text x="855.80" y="646.90" font-size="20" fill="#000000" font-weight="bold" text-anchor="start" >Clicks performance over time</text>
<rect x="1040.2" y="662" width="13.8" height="13.8" rx="1.5" fill="#35739a" stroke="#1c6394" stroke-width="0.85"/>
<text x="1064.80" y="674.40" font-size="15" fill="#444444" font-weight="normal" text-anchor="start" >Performance: Clicks</text>
<rect x="1219.5" y="666.5" width="15.3" height="5" fill="#4aaddf"/>
<text x="1244.60" y="674.40" font-size="15" fill="#444444" font-weight="normal" text-anchor="start" >Performance: CPC</text>
<rect x="887.9" y="828.80" width="621" height="1.3" fill="#d4d4d4"/>
<text x="880.50" y="833.95" font-size="15" fill="#444444" font-weight="normal" text-anchor="end" >100</text>
<rect x="887.9" y="794.95" width="621" height="1.3" fill="#d4d4d4"/>
<text x="880.50" y="800.10" font-size="15" fill="#444444" font-weight="normal" text-anchor="end" >200</text>
<rect x="887.9" y="761.10" width="621" height="1.3" fill="#d4d4d4"/>
<text x="880.50" y="766.25" font-size="15" fill="#444444" font-weight="normal" text-anchor="end" >300</text>
<rect x="887.9" y="727.25" width="621" height="1.3" fill="#d4d4d4"/>
<text x="880.50" y="732.40" font-size="15" fill="#444444" font-weight="normal" text-anchor="end" >400</text>
<rect x="887.9" y="693.40" width="621" height="1.3" fill="#d4d4d4"/>
<text x="880.50" y="698.55" font-size="15" fill="#444444" font-weight="normal" text-anchor="end" >500</text>
<text x="1517.50" y="825.50" font-size="15" fill="#444444" font-weight="normal" text-anchor="start" >$0.50</text>
<text x="1517.50" y="783.20" font-size="15" fill="#444444" font-weight="normal" text-anchor="start" >$1.00</text>
<text x="1517.50" y="740.90" font-size="15" fill="#444444" font-weight="normal" text-anchor="start" >$1.50</text>
<text x="1517.50" y="698.60" font-size="15" fill="#444444" font-weight="normal" text-anchor="start" >$2.00</text>
<rect x="891.60" y="706.97" width="7.5" height="166.73" rx="3.3" fill="#35739a" stroke="#1c6394" stroke-width="0.85"/>
<rect x="901.89" y="778.40" width="7.5" height="95.30" rx="3.3" fill="#35739a" stroke="#1c6394" stroke-width="0.85"/>
<rect x="912.19" y="760.80" width="7.5" height="112.90" rx="3.3" fill="#35739a" stroke="#1c6394" stroke-width="0.85"/>
<rect x="922.49" y="718.14" width="7.5" height="155.56" rx="3.3" fill="#35739a" stroke="#1c6394" stroke-width="0.85"/>
<rect x="932.78" y="718.14" width="7.5" height="155.56" rx="3.3" fill="#35739a" stroke="#1c6394" stroke-width="0.85"/>
<rect x="943.08" y="746.24" width="7.5" height="127.46" rx="3.3" fill="#35739a" stroke="#1c6394" stroke-width="0.85"/>
<rect x="953.37" y="747.26" width="7.5" height="126.44" rx="3.3" fill="#35739a" stroke="#1c6394" stroke-width="0.85"/>
<rect x="963.67" y="724.58" width="7.5" height="149.12" rx="3.3" fill="#35739a" stroke="#1c6394" stroke-width="0.85"/>
<rect x="973.96" y="735.75" width="7.5" height="137.95" rx="3.3" fill="#35739a" stroke="#1c6394" stroke-width="0.85"/>
<rect x="984.25" y="765.87" width="7.5" height="107.83" rx="3.3" fill="#35739a" stroke="#1c6394" stroke-width="0.85"/>
<rect x="994.55" y="759.78" width="7.5" height="113.92" rx="3.3" fill="#35739a" stroke="#1c6394" stroke-width="0.85"/>
<rect x="1004.85" y="735.75" width="7.5" height="137.95" rx="3.3" fill="#35739a" stroke="#1c6394" stroke-width="0.85"/>
<rect x="1015.14" y="718.14" width="7.5" height="155.56" rx="3.3" fill="#35739a" stroke="#1c6394" stroke-width="0.85"/>
<rect x="1025.44" y="742.18" width="7.5" height="131.52" rx="3.3" fill="#35739a" stroke="#1c6394" stroke-width="0.85"/>
<rect x="1035.73" y="731.68" width="7.5" height="142.02" rx="3.3" fill="#35739a" stroke="#1c6394" stroke-width="0.85"/>
<rect x="1046.03" y="768.58" width="7.5" height="105.12" rx="3.3" fill="#35739a" stroke="#1c6394" stroke-width="0.85"/>
<rect x="1056.32" y="719.50" width="7.5" height="154.20" rx="3.3" fill="#35739a" stroke="#1c6394" stroke-width="0.85"/>
<rect x="1066.62" y="769.94" width="7.5" height="103.76" rx="3.3" fill="#35739a" stroke="#1c6394" stroke-width="0.85"/>
<rect x="1076.91" y="733.04" width="7.5" height="140.66" rx="3.3" fill="#35739a" stroke="#1c6394" stroke-width="0.85"/>
<rect x="1087.21" y="769.94" width="7.5" height="103.76" rx="3.3" fill="#35739a" stroke="#1c6394" stroke-width="0.85"/>
<rect x="1097.50" y="742.18" width="7.5" height="131.52" rx="3.3" fill="#35739a" stroke="#1c6394" stroke-width="0.85"/>
<rect x="1107.80" y="713.41" width="7.5" height="160.29" rx="3.3" fill="#35739a" stroke="#1c6394" stroke-width="0.85"/>
<rect x="1118.09" y="764.86" width="7.5" height="108.84" rx="3.3" fill="#35739a" stroke="#1c6394" stroke-width="0.85"/>
<rect x="1128.39" y="753.35" width="7.5" height="120.35" rx="3.3" fill="#35739a" stroke="#1c6394" stroke-width="0.85"/>
<rect x="1138.68" y="694.45" width="7.5" height="179.25" rx="3.3" fill="#35739a" stroke="#1c6394" stroke-width="0.85"/>
<rect x="1148.98" y="731.01" width="7.5" height="142.69" rx="3.3" fill="#35739a" stroke="#1c6394" stroke-width="0.85"/>
<rect x="1159.27" y="710.70" width="7.5" height="163.00" rx="3.3" fill="#35739a" stroke="#1c6394" stroke-width="0.85"/>
<rect x="1169.57" y="764.86" width="7.5" height="108.84" rx="3.3" fill="#35739a" stroke="#1c6394" stroke-width="0.85"/>
<rect x="1179.86" y="700.54" width="7.5" height="173.16" rx="3.3" fill="#35739a" stroke="#1c6394" stroke-width="0.85"/>
<rect x="1190.16" y="740.15" width="7.5" height="133.55" rx="3.3" fill="#35739a" stroke="#1c6394" stroke-width="0.85"/>
<rect x="1200.45" y="760.80" width="7.5" height="112.90" rx="3.3" fill="#35739a" stroke="#1c6394" stroke-width="0.85"/>
<rect x="1210.75" y="748.27" width="7.5" height="125.43" rx="3.3" fill="#35739a" stroke="#1c6394" stroke-width="0.85"/>
<rect x="1221.04" y="753.35" width="7.5" height="120.35" rx="3.3" fill="#35739a" stroke="#1c6394" stroke-width="0.85"/>
<rect x="1231.34" y="749.63" width="7.5" height="124.07" rx="3.3" fill="#35739a" stroke="#1c6394" stroke-width="0.85"/>
<rect x="1241.63" y="772.30" width="7.5" height="101.40" rx="3.3" fill="#35739a" stroke="#1c6394" stroke-width="0.85"/>
<rect x="1251.93" y="753.35" width="7.5" height="120.35" rx="3.3" fill="#35739a" stroke="#1c6394" stroke-width="0.85"/>
<rect x="1262.22" y="731.01" width="7.5" height="142.69" rx="3.3" fill="#35739a" stroke="#1c6394" stroke-width="0.85"/>
<rect x="1272.52" y="782.12" width="7.5" height="91.58" rx="3.3" fill="#35739a" stroke="#1c6394" stroke-width="0.85"/>
<rect x="1282.81" y="763.84" width="7.5" height="109.86" rx="3.3" fill="#35739a" stroke="#1c6394" stroke-width="0.85"/>
<rect x="1293.11" y="739.47" width="7.5" height="134.23" rx="3.3" fill="#35739a" stroke="#1c6394" stroke-width="0.85"/>
<rect x="1303.40" y="721.87" width="7.5" height="151.83" rx="3.3" fill="#35739a" stroke="#1c6394" stroke-width="0.85"/>
<rect x="1313.70" y="735.75" width="7.5" height="137.95" rx="3.3" fill="#35739a" stroke="#1c6394" stroke-width="0.85"/>
<rect x="1323.99" y="718.14" width="7.5" height="155.56" rx="3.3" fill="#35739a" stroke="#1c6394" stroke-width="0.85"/>
<rect x="1334.29" y="700.54" width="7.5" height="173.16" rx="3.3" fill="#35739a" stroke="#1c6394" stroke-width="0.85"/>
<rect x="1344.58" y="718.14" width="7.5" height="155.56" rx="3.3" fill="#35739a" stroke="#1c6394" stroke-width="0.85"/>
<rect x="1354.88" y="784.83" width="7.5" height="88.87" rx="3.3" fill="#35739a" stroke="#1c6394" stroke-width="0.85"/>
<rect x="1365.17" y="776.03" width="7.5" height="97.67" rx="3.3" fill="#35739a" stroke="#1c6394" stroke-width="0.85"/>
<rect x="1375.47" y="787.54" width="7.5" height="86.16" rx="3.3" fill="#35739a" stroke="#1c6394" stroke-width="0.85"/>
<rect x="1385.76" y="755.04" width="7.5" height="118.66" rx="3.3" fill="#35739a" stroke="#1c6394" stroke-width="0.85"/>
<rect x="1396.06" y="789.91" width="7.5" height="83.79" rx="3.3" fill="#35739a" stroke="#1c6394" stroke-width="0.85"/>
<rect x="1406.35" y="696.82" width="7.5" height="176.88" rx="3.3" fill="#35739a" stroke="#1c6394" stroke-width="0.85"/>
<rect x="1416.64" y="767.23" width="7.5" height="106.47" rx="3.3" fill="#35739a" stroke="#1c6394" stroke-width="0.85"/>
<rect x="1426.94" y="746.24" width="7.5" height="127.46" rx="3.3" fill="#35739a" stroke="#1c6394" stroke-width="0.85"/>
<rect x="1437.24" y="723.22" width="7.5" height="150.48" rx="3.3" fill="#35739a" stroke="#1c6394" stroke-width="0.85"/>
<rect x="1447.53" y="751.99" width="7.5" height="121.70" rx="3.3" fill="#35739a" stroke="#1c6394" stroke-width="0.85"/>
<rect x="1457.83" y="735.75" width="7.5" height="137.95" rx="3.3" fill="#35739a" stroke="#1c6394" stroke-width="0.85"/>
<rect x="1468.12" y="772.30" width="7.5" height="101.40" rx="3.3" fill="#35739a" stroke="#1c6394" stroke-width="0.85"/>
<rect x="1478.41" y="735.75" width="7.5" height="137.95" rx="3.3" fill="#35739a" stroke="#1c6394" stroke-width="0.85"/>
<rect x="1488.71" y="729.65" width="7.5" height="144.05" rx="3.3" fill="#35739a" stroke="#1c6394" stroke-width="0.85"/>
<rect x="1499.01" y="732.36" width="7.5" height="141.34" rx="3.3" fill="#35739a" stroke="#1c6394" stroke-width="0.85"/>
<path d="M895.35,755.40 L905.64,756.76 L915.94,772.50 L926.24,781.98 L936.53,754.39 L946.83,749.23 L957.12,724.85 L967.42,760.31 L977.71,739.41 L988.00,745.84 L998.30,760.65 L1008.60,774.87 L1018.89,759.63 L1029.19,768.52 L1039.48,774.87 L1049.78,781.38 L1060.07,789.25 L1070.37,721.30 L1080.66,787.31 L1090.96,727.14 L1101.25,768.60 L1111.55,772.50 L1121.84,770.55 L1132.14,751.85 L1142.43,743.39 L1152.73,771.48 L1163.02,774.11 L1173.32,753.80 L1183.61,760.06 L1193.91,774.44 L1204.20,770.89 L1214.50,740.59 L1224.79,758.70 L1235.09,785.28 L1245.38,721.30 L1255.68,794.16 L1265.97,750.83 L1276.27,740.59 L1286.56,766.57 L1296.86,758.70 L1307.15,754.39 L1317.45,766.57 L1327.74,801.95 L1338.04,768.52 L1348.33,753.80 L1358.62,743.39 L1368.92,746.52 L1379.22,747.28 L1389.51,746.86 L1399.81,787.31 L1410.10,786.71 L1420.39,747.36 L1430.69,738.05 L1440.99,738.05 L1451.28,762.68 L1461.58,771.74 L1471.87,768.77 L1482.16,754.56 L1492.46,769.54 L1502.76,762.26" fill="none" stroke="#4aaddf" stroke-width="2.6" stroke-linejoin="round"/>
</g>
<rect x="0" y="855" width="1600" height="15.5" fill="#ffffff"/>
<rect x="0" y="855" width="54" height="15.5" fill="#f5f5f5"/>
<rect x="0" y="854.6" width="1600" height="1" fill="#e1e1e1"/>
<rect x="53.7" y="855" width="1" height="15.5" fill="#d0d0d0"/>
<rect x="0" y="870.3" width="1600" height="44.7" fill="#f9fbfd"/>
<rect x="0" y="870.3" width="1600" height="1" fill="#e3e3e3"/>
<rect x="162.3" y="871.3" width="116.7" height="43.7" fill="#e1e8f5"/>
<rect x="67.1" y="893.3" width="12.2" height="1.6" fill="#333333"/>
<rect x="72.5" y="888" width="1.6" height="12" fill="#333333"/>
<rect x="114.1" y="888.50" width="17.4" height="1.6" fill="#333333"/>
<rect x="114.1" y="893.50" width="17.4" height="1.6" fill="#333333"/>
<rect x="114.1" y="898.10" width="17.4" height="1.6" fill="#333333"/>
<text x="177.60" y="900.50" font-size="16.6" fill="#0b57d0" font-weight="normal" text-anchor="start" textLength="62.3" lengthAdjust="spacingAndGlyphs" stroke="#0b57d0" stroke-width="0.55">Visuals</text>
<path d="M255.00,891.6 L264.60,891.6 L259.80,896.6 Z" fill="#0b57d0"/>
<text x="293.80" y="900.50" font-size="16.6" fill="#333333" font-weight="normal" text-anchor="start" textLength="202.5" lengthAdjust="spacingAndGlyphs" stroke="#333333" stroke-width="0.2">Performance by Source</text>
<path d="M510.80,891.6 L520.40,891.6 L515.60,896.6 Z" fill="#444444"/>
<text x="550.80" y="900.50" font-size="16.6" fill="#333333" font-weight="normal" text-anchor="start" textLength="274.5" lengthAdjust="spacingAndGlyphs" stroke="#333333" stroke-width="0.2">Performance by Campaign type</text>
<path d="M839.20,891.6 L848.80,891.6 L844.00,896.6 Z" fill="#444444"/>
<text x="879.20" y="900.50" font-size="16.6" fill="#333333" font-weight="normal" text-anchor="start" textLength="75" lengthAdjust="spacingAndGlyphs" stroke="#333333" stroke-width="0.2">!Readme</text>
<path d="M968.50,891.6 L978.10,891.6 L973.30,896.6 Z" fill="#444444"/>
</svg>
</body></html>
